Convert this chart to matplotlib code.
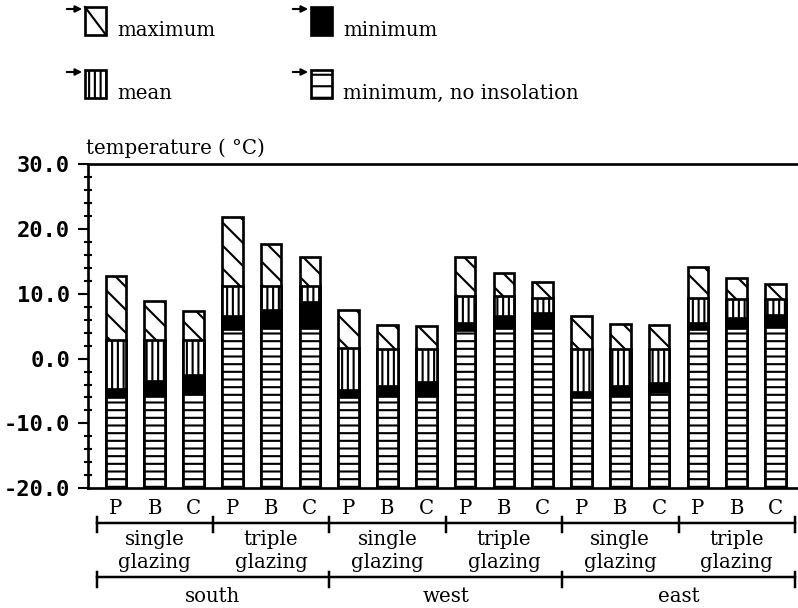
import numpy as np
import matplotlib
matplotlib.use("Agg")
import matplotlib.pyplot as plt
from matplotlib.patches import Rectangle, FancyArrowPatch
from matplotlib.lines import Line2D
from matplotlib.transforms import blended_transform_factory

# данные: 3 фасада x 2 остекления x 3 окна (P, B, C)
windows = ["P", "B", "C"]
glazing = ["single\nglazing", "triple\nglazing"]
facades = ["south", "west", "east"]

t_max = [12.7, 8.9, 7.4, 21.9, 17.6, 15.6,
         7.5, 5.2, 5.0, 15.6, 13.2, 11.8,
         6.5, 5.3, 5.2, 14.1, 12.4, 11.5]
t_mean = [2.8, 2.8, 2.8, 11.2, 11.2, 11.2,
          1.6, 1.5, 1.5, 9.6, 9.6, 9.3,
          1.4, 1.4, 1.4, 9.3, 9.2, 9.2]
t_min = [-4.7, -3.5, -2.6, 6.5, 7.5, 8.8,
         -4.9, -4.2, -3.6, 5.5, 6.5, 7.1,
         -5.1, -4.3, -3.7, 5.5, 6.2, 6.7]
t_min_noins = [-5.9, -5.8, -5.3, 4.6, 4.7, 4.7,
               -5.9, -5.8, -5.7, 4.4, 4.7, 4.7,
               -5.9, -5.7, -5.2, 4.5, 4.7, 4.9]

legend_labels = ["maximum", "minimum", "mean", "minimum, no insolation"]

DPI = 138
W, H = 798, 608


def fx(px):
    return px / W


def fy(px):
    return 1 - px / H


plt.rcParams["font.family"] = "DejaVu Serif"
plt.rcParams["hatch.linewidth"] = 1.1

fig = plt.figure(figsize=(W / DPI, H / DPI), dpi=DPI)
ax = fig.add_axes([fx(88), fy(488.3), 1 - fx(88), (488.3 - 164) / H])

x = np.arange(len(t_max))
base = -20
bw = 0.53
# рисуем столбцы друг поверх друга: от max к min без инсоляции
layers = [
    (t_max, "white", "\\\\"),
    (t_mean, "white", "||||"),
    (t_min, "black", None),
    (t_min_noins, "white", "---"),
]
for z, (vals, fc, hatch) in enumerate(layers):
    ax.bar(x, np.array(vals) - base, bottom=base, width=bw, color=fc,
           edgecolor="black", hatch=hatch, linewidth=1.4, zorder=2 + z)

ax.set_xlim(-0.72, 17.58)
ax.set_ylim(-20, 30)
ax.spines["right"].set_visible(False)
for s in ["left", "top", "bottom"]:
    ax.spines[s].set_linewidth(1.4)

yt = np.arange(-20, 31, 10)
ax.set_yticks(yt, [f"{v:.1f}" for v in yt])
ax.set_yticks(np.arange(-20, 31, 2), minor=True)
ax.tick_params(axis="y", which="major", length=5.2, width=1.1, pad=4.2,
               direction="out")
ax.tick_params(axis="y", which="minor", length=4.0, width=1.1,
               direction="inout")
for lab in ax.get_yticklabels():
    lab.set_fontfamily("DejaVu Sans Mono")
    lab.set_fontweight("bold")
    lab.set_fontsize(11.5)

ax.set_xticks(x, windows * (len(facades) * len(glazing)))
ax.tick_params(axis="x", length=0, pad=5.5, labelsize=10.3)

# подписи групп под осью
tr = blended_transform_factory(ax.transData, fig.transFigure)
lw = 1.3
ax.add_line(Line2D([-0.5, 17.5], [fy(522.7)] * 2, transform=tr, color="black",
                   lw=lw, clip_on=False))
for k in range(7):
    xb = -0.5 + 3 * k
    ax.add_line(Line2D([xb, xb], [fy(517), fy(532)], transform=tr,
                       color="black", lw=lw, clip_on=False))
ax.add_line(Line2D([-0.5, 17.5], [fy(576.7)] * 2, transform=tr, color="black",
                   lw=lw, clip_on=False))
for k in range(4):
    xb = -0.5 + 6 * k
    ax.add_line(Line2D([xb, xb], [fy(572), fy(587)], transform=tr,
                       color="black", lw=lw, clip_on=False))

for g in range(len(facades) * len(glazing)):
    l1, l2 = glazing[g % 2].split("\n")
    xc = 1 + 3 * g
    ax.text(xc, fy(545), l1, transform=tr, ha="center", va="baseline",
            fontsize=10.3)
    ax.text(xc, fy(568), l2, transform=tr, ha="center", va="baseline",
            fontsize=10.3)
for i, name in enumerate(facades):
    ax.text(2.5 + 6 * i, fy(601.5), name, transform=tr, ha="center",
            va="baseline", fontsize=10.3)

fig.text(fx(86), fy(154), "temperature ( °C)", va="baseline", fontsize=10.3)

# легенда вручную
boxes = [(85, 7), (311, 7), (85, 70), (311, 70)]
styles = [("white", None), ("black", None), ("white", "||||"), ("white", "--")]
for (bx, by), (fc, hatch), label in zip(boxes, styles, legend_labels):
    fig.add_artist(Rectangle((fx(bx), fy(by + 28)), 21 / W, 28 / H,
                             transform=fig.transFigure, facecolor=fc,
                             edgecolor="black", hatch=hatch, linewidth=1.4))
    fig.add_artist(FancyArrowPatch((fx(bx - 22), fy(by + 2)),
                                   (fx(bx + 1), fy(by + 2)),
                                   transform=fig.transFigure,
                                   arrowstyle="-|>", mutation_scale=7,
                                   color="black", lw=1.1))
    fig.text(fx(bx + 32), fy(by + 29), label, va="baseline", fontsize=10.3)
# диагональ в значке "maximum"
fig.add_artist(Line2D([fx(85), fx(106)], [fy(7), fy(35)],
                      transform=fig.transFigure, color="black", lw=1.1))

fig.savefig("out.png", dpi=DPI)
